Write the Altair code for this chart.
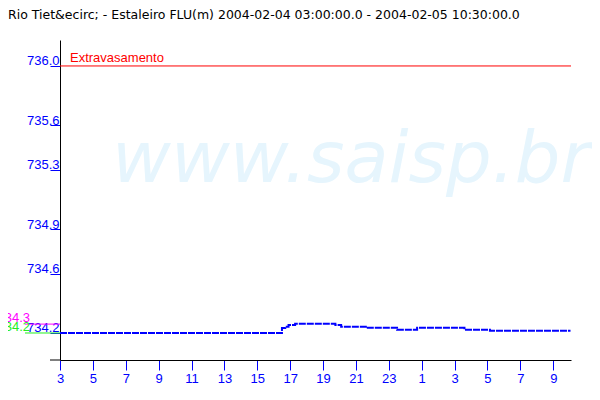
import altair as alt
import pandas as pd

# ---- data ----
title_text = "Rio Tiet&ecirc; - Estaleiro FLU(m) 2004-02-04 03:00:00.0 - 2004-02-05 10:30:00.0"
hours = [3.0, 16.5, 16.7, 16.9, 17.3, 19.75, 20.1, 21.6, 23.5, 24.72, 27.6, 29.15, 34.05]
levels = [734.200, 734.234, 734.242, 734.254, 734.262, 734.254, 734.242, 734.235,
          734.222, 734.235, 734.222, 734.215, 734.215]
x_ticks = [3, 5, 7, 9, 11, 13, 15, 17, 19, 21, 23, 25, 27, 29, 31, 33]
y_ticks = [736.0, 735.6, 735.3, 734.9, 734.6, 734.2]
overflow_level = [736.0]
overflow_label = ["Extravasamento"]
ref_levels = [734.26, 734.2]
ref_labels = ["734.3", "734.2"]
ref_colors = ["#ff00ff", "#22ee22"]
watermark = ["www.saisp.br"]

BLUE = "#0000ff"
FONT = "Liberation Sans"

df = pd.DataFrame({"hour": hours, "level": levels})
over_df = pd.DataFrame({"level": overflow_level, "label": overflow_label})
ref_df = pd.DataFrame({"level": ref_levels, "label": ref_labels, "color": ref_colors})
wm_df = pd.DataFrame({"t": watermark})
title_df = pd.DataFrame({"t": [title_text]})

xscale = alt.Scale(domain=[3, 34.08], nice=False, zero=False)
yscale = alt.Scale(domain=[734.018, 736.175], nice=False, zero=False)

xaxis = alt.Axis(values=x_ticks, labelExpr="datum.value % 24", title=None, grid=False,
                 domainColor="black", tickColor=BLUE, labelColor=BLUE, labelFont=FONT,
                 labelFontSize=13, tickSize=10, labelPadding=2, labelFlush=False)
yaxis = alt.Axis(values=y_ticks, format=".1f", title=None, grid=False,
                 domainColor="black", tickColor=BLUE, labelColor=BLUE, labelFont=FONT,
                 labelFontSize=13, tickSize=10, labelPadding=-9, labelBaseline="alphabetic",
                 labelOffset=-1, labelFlush=False)

wm = alt.Chart(wm_df).mark_text(
    font="DejaVu Sans", fontStyle="italic", fontSize=72, color="#e6f5fd",
    align="left", baseline="alphabetic"
).encode(x=alt.value(52), y=alt.value(142), text="t:N")

title = alt.Chart(title_df).mark_text(
    font="DejaVu Sans", fontSize=12.5, color="black", align="left", baseline="alphabetic"
).encode(x=alt.value(-52), y=alt.value(-21), text="t:N")

over_rule = alt.Chart(over_df).mark_rule(color="#ff0000", strokeWidth=1).encode(
    y=alt.Y("level:Q", scale=yscale, axis=yaxis))
over_text = alt.Chart(over_df).mark_text(
    font=FONT, fontSize=13, color="#ff0000", align="left", baseline="alphabetic", dy=-4
).encode(x=alt.value(10), y=alt.Y("level:Q", scale=yscale, axis=yaxis), text="label:N")

ref_rule = alt.Chart(ref_df).mark_rule(strokeWidth=1).encode(
    x=alt.value(-35), x2=alt.value(0),
    y=alt.Y("level:Q", scale=yscale, axis=yaxis),
    color=alt.Color("color:N", scale=None))
ref_text = alt.Chart(ref_df).mark_text(
    font=FONT, fontSize=13, align="right", baseline="alphabetic", dy=-2
).encode(x=alt.value(-30), y=alt.Y("level:Q", scale=yscale, axis=yaxis),
         text="label:N", color=alt.Color("color:N", scale=None))

axis_ext = alt.Chart(title_df).mark_rule(color="black", strokeWidth=1).encode(
    x=alt.value(-10), x2=alt.value(0), y=alt.value(320))

line = alt.Chart(df).mark_line(interpolate="step-after", color=BLUE, strokeWidth=2,
                               strokeDash=[7, 1]).encode(
    x=alt.X("hour:Q", scale=xscale, axis=xaxis),
    y=alt.Y("level:Q", scale=yscale, axis=yaxis))

chart = alt.layer(wm, title, over_rule, over_text, ref_rule, ref_text, axis_ext, line).properties(
    width=511, height=320,
    padding={"left": 52, "top": 32, "right": 21, "bottom": 32},
    autosize="none",
    background="white",
).configure_view(stroke=None)

chart.save("out.html", embed_options={"renderer": "svg", "actions": False})
